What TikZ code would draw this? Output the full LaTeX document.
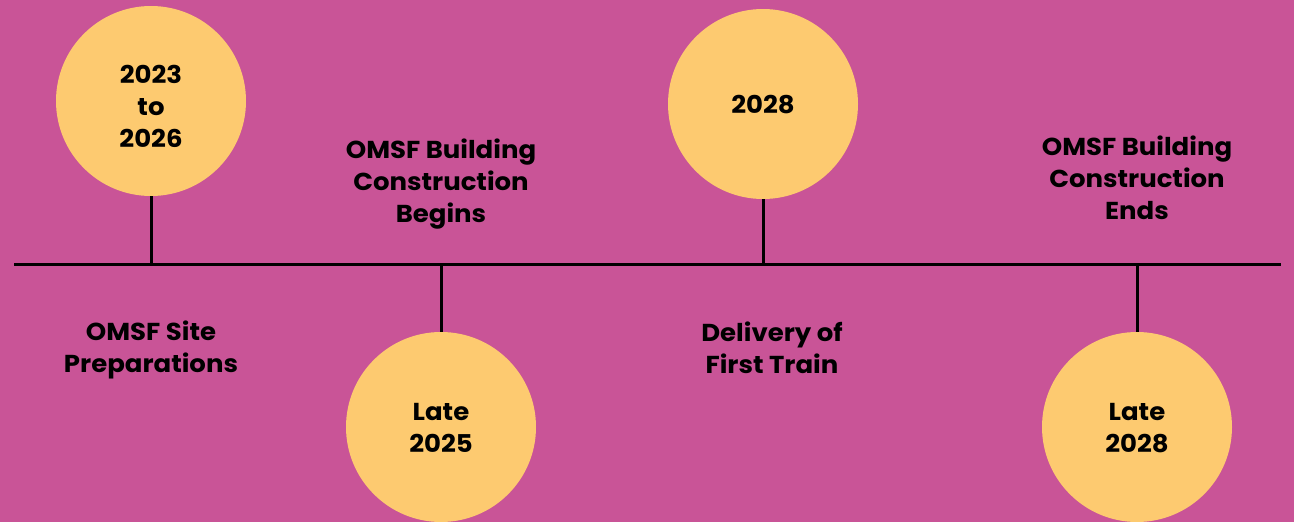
\documentclass[tikz,border=0pt]{standalone}
\usepackage{fontspec}
\setmainfont{Poppins}[BoldFont={Poppins Bold},BoldFeatures={FakeStretch=1.06}]
\definecolor{bg}{HTML}{C95497}
\definecolor{disc}{HTML}{FDCA70}
\begin{document}
\begin{tikzpicture}[x=1pt,y=-1pt,
  yearcircle/.style={circle,fill=disc,minimum size=190pt,inner sep=0pt},
  label/.style={align=center,font=\fontsize{24.5}{32}\selectfont\bfseries,inner sep=0pt},
  tline/.style={line width=3pt,black}]
\fill[bg] (0,0) rectangle (1294,522);
\useasboundingbox (0,0) rectangle (1294,522);
\coordinate (L) at (14,264);
\coordinate (R) at (1281,264);
\coordinate (t1) at (151,264);
\coordinate (t2) at (441,264);
\coordinate (t3) at (763,264);
\coordinate (t4) at (1137,264);
\node[yearcircle] (c1) at (151,101) {};
\node[yearcircle] (c2) at (441,427) {};
\node[yearcircle] (c3) at (763,104) {};
\node[yearcircle] (c4) at (1137,427) {};
\node[label] (y1) at (151,106) {2023\\to\\2026};
\node[label] (y2) at (441,428) {Late\\2025};
\node[label] (y3) at (763,105) {2028};
\node[label] (y4) at (1137,428) {Late\\2028};
\draw[tline] (L) -- (R);
\draw[tline] (c1.south) -- (t1);
\draw[tline] (t2) -- (c2.north);
\draw[tline] (c3.south) -- (t3);
\draw[tline] (t4) -- (c4.north);
\node[label] (d1) at (151,350) {OMSF Site\\Preparations};
\node[label] (d2) at (441,184) {OMSF Building\\Construction\\Begins};
\node[label] (d3) at (772,348) {Delivery of\\First Train};
\node[label] (d4) at (1137,178) {OMSF Building\\Construction\\Ends};
\end{tikzpicture}
\end{document}
